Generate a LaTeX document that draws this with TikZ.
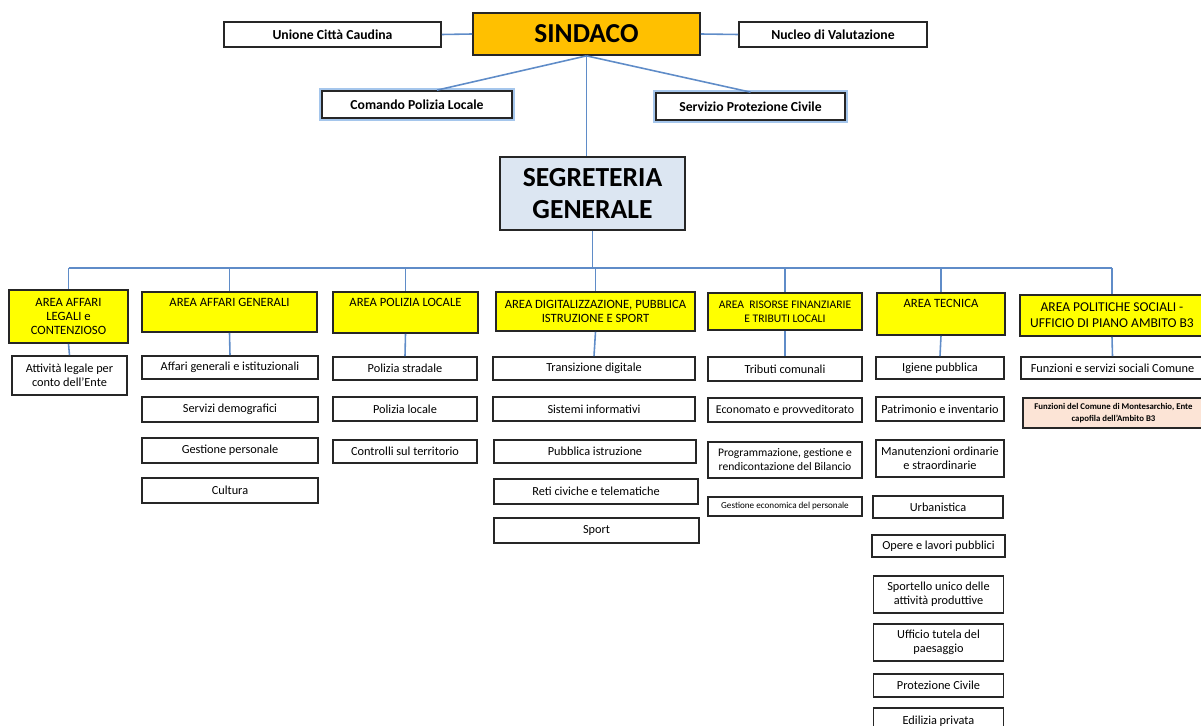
\documentclass[tikz,border=0pt]{standalone}
\usepackage{fontspec}
\setmainfont{Carlito}
\definecolor{linkblue}{RGB}{95,140,200}
\definecolor{sindacofill}{RGB}{255,192,0}
\definecolor{segfill}{RGB}{220,230,242}
\definecolor{areafill}{RGB}{255,255,0}
\definecolor{peach}{RGB}{252,228,214}
\definecolor{glowblue}{RGB}{165,198,236}
\begin{document}
\begin{tikzpicture}[x=0.02cm,y=-0.02cm]
  \tikzset{
    box/.style={draw=black!85, line width=1pt, fill=white, inner sep=1pt, align=center, font=\fontsize{7}{8}\selectfont},
    topbox/.style={box, font=\bfseries\fontsize{7.8}{9}\selectfont},
    glowbox/.style={topbox, preaction={draw=glowblue, line width=3.5pt}},
    areabox/.style={box, fill=areafill, font=\fontsize{7.2}{8.2}\selectfont},
    link/.style={draw=linkblue, line width=0.9pt}
  }
  \useasboundingbox (0,0) rectangle (1201,726);
  % vertici
  \node[box, fill=sindacofill, minimum width=4.54cm, minimum height=0.84cm, font=\bfseries\fontsize{15.6}{18}\selectfont] (sindaco) at (586.5,34) {SINDACO};
  \node[topbox, minimum width=4.34cm, minimum height=0.5cm] (unione) at (332.5,34.5) {Unione Città Caudina};
  \node[topbox, minimum width=3.76cm, minimum height=0.5cm] (nucleo) at (833,34.5) {Nucleo di Valutazione};
  \node[glowbox, minimum width=3.8cm, minimum height=0.54cm] (comando) at (417,104.5) {Comando Polizia Locale};
  \node[glowbox, minimum width=3.78cm, minimum height=0.54cm] (protciv) at (750.5,106.5) {Servizio Protezione Civile};
  \node[box, fill=segfill, minimum width=3.7cm, minimum height=1.46cm, font=\bfseries\fontsize{15.7}{18}\selectfont] (segreteria) at (592.5,193.5) {SEGRETERIA\\GENERALE};
  \coordinate (bus) at (0,268);
  % aree
  \node[areabox, minimum width=2.38cm, minimum height=1.06cm] (a1) at (68.5,316.5) {AREA AFFARI\\LEGALI e\\CONTENZIOSO};
  \node[areabox, minimum width=3.5cm, minimum height=0.8cm, text height=0.25cm, text depth=0.48cm] (a2) at (229.5,312) {AREA AFFARI GENERALI};
  \node[areabox, minimum width=2.9cm, minimum height=0.82cm, text height=0.25cm, text depth=0.5cm] (a3) at (405.5,312.5) {AREA POLIZIA LOCALE};
  \node[areabox, minimum width=3.98cm, minimum height=0.78cm] (a4) at (595.5,311.5) {AREA DIGITALIZZAZIONE, PUBBLICA\\ISTRUZIONE E SPORT};
  \node[areabox, minimum width=3.08cm, minimum height=0.74cm, font=\fontsize{6.6}{8.2}\selectfont] (a5) at (785,311.5) {AREA \ RISORSE FINANZIARIE\\E TRIBUTI LOCALI};
  \node[areabox, minimum width=2.56cm, minimum height=0.84cm, text height=0.25cm, text depth=0.52cm] (a6) at (941,314) {AREA TECNICA};
  \node[areabox, minimum width=3.68cm, minimum height=0.82cm, font=\fontsize{7.7}{9}\selectfont] (a7) at (1112,315.5) {AREA POLITICHE SOCIALI -\\UFFICIO DI PIANO AMBITO B3};
  % uffici
  \node[box, minimum width=2.3cm, minimum height=0.78cm] (s11) at (69.5,375.5) {Attività legale per\\conto dell'Ente};
  \node[box, minimum width=3.52cm, minimum height=0.46cm] (s21) at (230,367.5) {Affari generali e istituzionali};
  \node[box, minimum width=3.52cm, minimum height=0.5cm] (s22) at (230,409.5) {Servizi demografici};
  \node[box, minimum width=3.52cm, minimum height=0.5cm] (s23) at (230,450.5) {Gestione personale};
  \node[box, minimum width=3.52cm, minimum height=0.5cm] (s24) at (230,490.5) {Cultura};
  \node[box, minimum width=2.88cm, minimum height=0.46cm] (s31) at (405,368.5) {Polizia stradale};
  \node[box, minimum width=2.88cm, minimum height=0.48cm] (s32) at (405,409) {Polizia locale};
  \node[box, minimum width=2.88cm, minimum height=0.46cm] (s33) at (405,451.5) {Controlli sul territorio};
  \node[box, minimum width=4.04cm, minimum height=0.46cm] (s41) at (594,368.5) {Transizione digitale};
  \node[box, minimum width=4.04cm, minimum height=0.48cm] (s42) at (594,409) {Sistemi informativi};
  \node[box, minimum width=4.04cm, minimum height=0.46cm] (s43) at (595,451.5) {Pubblica istruzione};
  \node[box, minimum width=4.08cm, minimum height=0.5cm] (s44) at (596,491.5) {Reti civiche e telematiche};
  \node[box, minimum width=4.1cm, minimum height=0.5cm] (s45) at (596.5,530.5) {Sport};
  \node[box, minimum width=3.08cm, minimum height=0.48cm] (s51) at (785,369) {Tributi comunali};
  \node[box, minimum width=3.08cm, minimum height=0.48cm, font=\fontsize{6.8}{8}\selectfont] (s52) at (785,410) {Economato e provveditorato};
  \node[box, minimum width=3.08cm, minimum height=0.72cm, font=\fontsize{6.6}{8}\selectfont] (s53) at (785,460) {Programmazione, gestione e\\rendicontazione del Bilancio};
  \node[box, minimum width=3.08cm, minimum height=0.38cm, font=\fontsize{5.2}{6}\selectfont] (s54) at (785,506.5) {Gestione economica del personale};
  \node[box, minimum width=2.56cm, minimum height=0.44cm] (s61) at (940,368) {Igiene pubblica};
  \node[box, minimum width=2.56cm, minimum height=0.48cm] (s62) at (940,409) {Patrimonio e inventario};
  \node[box, minimum width=2.56cm, minimum height=0.74cm] (s63) at (940,458.5) {Manutenzioni ordinarie\\e straordinarie};
  \node[box, minimum width=2.6cm, minimum height=0.44cm] (s64) at (938,507) {Urbanistica};
  \node[box, minimum width=2.66cm, minimum height=0.44cm] (s65) at (938.5,546) {Opere e lavori pubblici};
  \node[box, minimum width=2.6cm, minimum height=0.74cm] (s66) at (938.5,594.5) {Sportello unico delle\\attività produttive};
  \node[box, minimum width=2.6cm, minimum height=0.74cm] (s67) at (938.5,642.5) {Ufficio tutela del\\paesaggio};
  \node[box, minimum width=2.6cm, minimum height=0.46cm] (s68) at (938.5,685.5) {Protezione Civile};
  \node[box, minimum width=2.6cm, minimum height=0.52cm] (s69) at (938.5,721) {Edilizia privata};
  \node[box, minimum width=3.66cm, minimum height=0.44cm] (s71) at (1112.5,368) {Funzioni e servizi sociali Comune};
  \node[box, fill=peach, minimum width=3.62cm, minimum height=0.6cm, font=\bfseries\fontsize{5}{6.5}\selectfont] (s72) at (1113.5,413) {Funzioni del Comune di Montesarchio, Ente\\capofila dell'Ambito B3};
  % collegamenti
  \draw[link] (unione.east) -- (sindaco.west);
  \draw[link] (nucleo.west) -- (sindaco.east);
  \draw[link] (sindaco.south) -- ([xshift=0.4cm]comando.north);
  \draw[link] (sindaco.south) -- (protciv.north);
  \draw[link] (sindaco.south) -- (sindaco.south |- segreteria.north);
  \draw[link] (segreteria.south) -- (segreteria.south |- bus);
  \draw[link] (a1.north |- bus) -- (a7.north |- bus);
  \foreach \a/\s in {a1/s11, a2/s21, a3/s31, a4/s41, a5/s51, a6/s61, a7/s71} {
    \draw[link] (\a.north |- bus) -- (\a.north);
    \draw[link] (\a.south) -- (\s.north);
  }
\end{tikzpicture}
\end{document}
